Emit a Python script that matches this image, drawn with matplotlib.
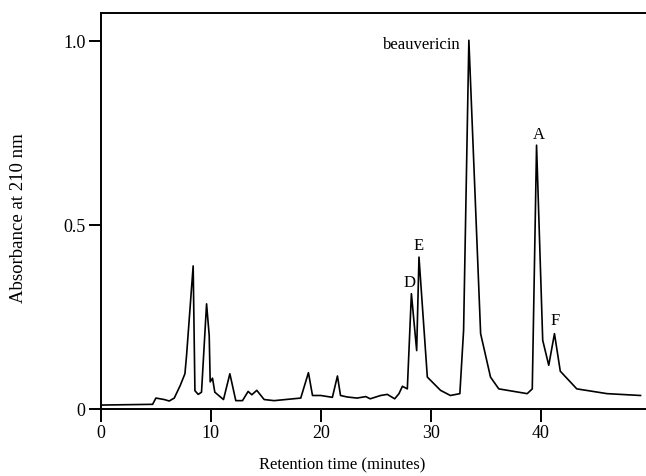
import matplotlib
matplotlib.use('Agg')
import matplotlib.pyplot as plt

# Chromatogram trace
time_min = [0.0, 4.7, 5.0, 5.76, 6.21, 6.67, 7.21, 7.64, 7.79, 8.39, 8.55, 8.85, 9.15,
            9.61, 9.85, 9.94, 10.15, 10.36, 11.15, 11.73, 12.27, 12.88, 13.39, 13.73,
            14.18, 14.85, 15.76, 18.18, 18.88, 19.25, 20.0, 21.06, 21.52, 21.8, 22.4,
            23.3, 24.1, 24.5, 25.45, 26.06, 26.73, 27.12, 27.43, 27.88, 28.25, 28.73,
            28.94, 29.7, 30.9, 31.8, 32.66, 33.0, 33.48, 34.55, 35.45, 36.2, 38.79,
            39.25, 39.64, 40.2, 40.75, 41.27, 41.8, 43.3, 46.06, 49.1]
absorbance = [0.010, 0.012, 0.029, 0.025, 0.021, 0.029, 0.063, 0.095, 0.145, 0.388, 0.049,
              0.039, 0.045, 0.285, 0.199, 0.073, 0.083, 0.045, 0.025, 0.095, 0.022, 0.022,
              0.047, 0.038, 0.050, 0.025, 0.022, 0.029, 0.098, 0.036, 0.036, 0.031, 0.089,
              0.036, 0.032, 0.029, 0.033, 0.027, 0.036, 0.039, 0.027, 0.041, 0.061, 0.054,
              0.3125, 0.158, 0.412, 0.086, 0.050, 0.036, 0.041, 0.213, 1.001, 0.204, 0.086,
              0.054, 0.041, 0.054, 0.716, 0.186, 0.118, 0.204, 0.102, 0.054, 0.041, 0.036]

# Peak labels
peak_names = ['beauvericin', 'A', 'D', 'E', 'F']
peak_x = [32.7, 39.85, 28.1, 28.94, 41.36]
peak_y = [0.99, 0.747, 0.344, 0.446, 0.24]
peak_ha = ['right', 'center', 'center', 'center', 'center']

plt.rcParams['font.family'] = ['Liberation Serif', 'DejaVu Serif']

fig = plt.figure(figsize=(6.46, 4.77), dpi=100)
ax = fig.add_axes([0.1563, 0.141, 0.8437, 0.8296])

ax.plot(time_min, absorbance, color='black', linewidth=1.2)

for name, x, y, ha in zip(peak_names, peak_x, peak_y, peak_ha):
    ax.text(x, y, name, ha=ha, va='center', fontsize=12)

ax.set_xlim(0, 49.6)
ax.set_ylim(0, 1.075)
ax.set_xticks([0, 10, 20, 30, 40])
ax.set_yticks([0, 0.5, 1.0])
ax.set_yticklabels(['0', '0.5', '1.0'])
ax.tick_params(direction='out', length=9, width=1.4, labelsize=13, pad=2)

ax.spines['right'].set_visible(False)
for side in ['left', 'bottom', 'top']:
    ax.spines[side].set_linewidth(1.4)

ax.set_xlabel('Retention time (minutes)', fontsize=12)
ax.set_ylabel('Absorbance at 210 nm', fontsize=13.5)
ax.xaxis.set_label_coords(0.443, -0.12)
ax.yaxis.set_label_coords(-0.135, 0.485)

fig.savefig('out.png', dpi=100)
